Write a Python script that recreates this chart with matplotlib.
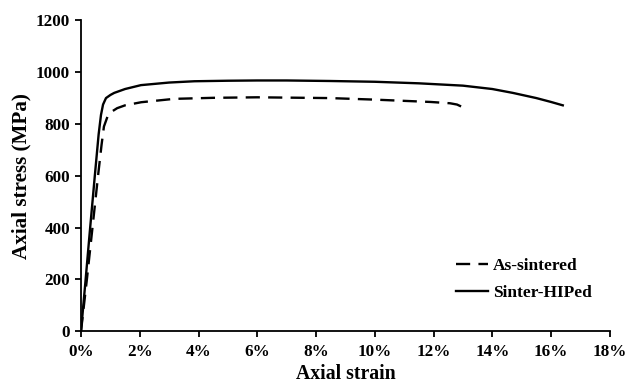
import matplotlib
matplotlib.use("Agg")
import matplotlib.pyplot as plt
from matplotlib.ticker import FuncFormatter

# Data (strain in %, stress in MPa)
as_sintered_strain = [0.0, 0.2, 0.4, 0.58, 0.70, 0.78, 0.90, 1.05, 1.23, 1.5, 2.05, 3.17, 4.5, 6.0, 8.46, 10.0, 11.9, 12.56, 12.8, 12.97]
as_sintered_stress = [0, 200, 410, 600, 720, 790, 828, 848, 861, 872, 884, 897, 901, 903, 900, 894, 885, 880, 875, 866]

hip_strain = [0.0, 0.15, 0.3, 0.47, 0.60, 0.68, 0.75, 0.85, 1.0, 1.13, 1.5, 2.04, 3.0, 3.86, 5.0, 6.0, 7.0, 8.46, 10.0, 11.5, 13.0, 14.0, 14.7, 15.5, 16.0, 16.4]
hip_stress = [0, 190, 385, 600, 760, 835, 875, 900, 912, 920, 935, 950, 960, 965, 967, 968, 968, 966, 963, 957, 948, 935, 920, 900, 885, 872]

x_ticks = [0, 2, 4, 6, 8, 10, 12, 14, 16, 18]
y_ticks = [0, 200, 400, 600, 800, 1000, 1200]

plt.rcParams['font.family'] = ['Liberation Serif', 'DejaVu Serif']
plt.rcParams['font.weight'] = 'bold'

fig = plt.figure(figsize=(6.28, 3.85), dpi=100)
ax = fig.add_axes([0.1290, 0.140, 0.842, 0.807])

ax.plot(as_sintered_strain, as_sintered_stress, color='black', lw=1.7,
        linestyle=(0, (6, 3.5)), label='As-sintered')
ax.plot(hip_strain, hip_stress, color='black', lw=1.7, label='Sinter-HIPed')

ax.set_xlim(0, 18)
ax.set_ylim(0, 1200)
ax.set_xticks(x_ticks)
ax.set_yticks(y_ticks)
ax.xaxis.set_major_formatter(FuncFormatter(lambda v, p: f"{int(v)}%"))
ax.tick_params(axis='both', direction='out', length=4, width=1.3, labelsize=12.3)
ax.tick_params(axis='x', pad=5)
ax.tick_params(axis='y', pad=4)
for lbl in ax.get_xticklabels() + ax.get_yticklabels():
    lbl.set_fontweight('bold')

ax.spines['top'].set_visible(False)
ax.spines['right'].set_visible(False)
ax.spines['left'].set_linewidth(1.3)
ax.spines['bottom'].set_linewidth(1.3)

ax.set_xlabel('Axial strain', fontsize=14.2, fontweight='bold', labelpad=3)
ax.set_ylabel('Axial stress (MPa)', fontsize=15.2, fontweight='bold', labelpad=3)

leg = ax.legend(loc='lower right', bbox_to_anchor=(0.995, 0.045), frameon=False,
                prop={'family': 'Liberation Serif', 'weight': 'bold', 'size': 12.5},
                handlelength=1.85, handletextpad=0.25, labelspacing=0.65)

fig.savefig('out.png', dpi=100)
